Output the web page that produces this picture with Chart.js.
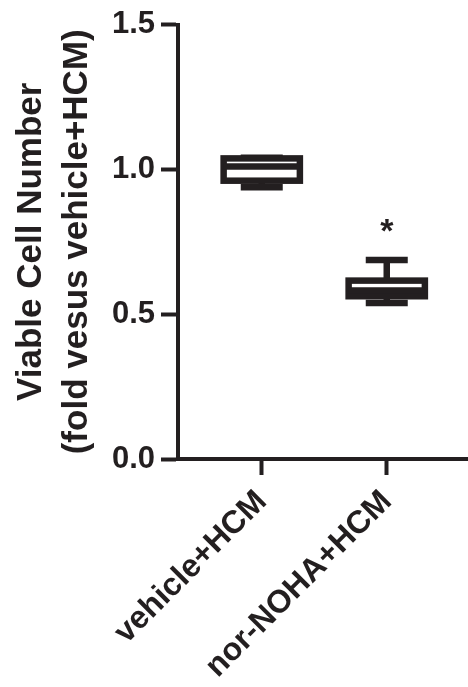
<!DOCTYPE html>
<html>
<head>
<meta charset="utf-8">
<script src="https://cdn.jsdelivr.net/npm/chart.js@4.4.1/dist/chart.umd.min.js"></script>
<style>
  html, body { margin: 0; padding: 0; background: #fff; }
  #wrap { width: 468px; height: 687px; position: relative; }
</style>
</head>
<body>
<div id="wrap"><canvas id="boxChart"></canvas></div>
<script>
// box plot data
const groups = ["vehicle+HCM", "nor-NOHA+HCM"];
const mins = [0.938, 0.539];
const q1s = [0.961, 0.562];
const medians = [1.010, 0.582];
const q3s = [1.038, 0.616];
const maxs = [1.040, 0.687];
const marks = ["", "*"];
const yTicks = [0, 0.5, 1.0, 1.5];

const ink = "#231f20";
const fontFam = "'Liberation Sans', Arial, Helvetica, sans-serif";

// draws the box & whiskers through the chart scales
const boxPlot = {
    id: "boxPlot",
    afterDatasetsDraw(chart) {
        const { ctx, scales: { x, y } } = chart;
        const lw = 6.5;
        ctx.save();
        ctx.strokeStyle = ink;
        ctx.lineWidth = lw;
        ctx.lineCap = "butt";
        ctx.lineJoin = "miter";
        groups.forEach((g, i) => {
            const cx = x.getPixelForValue(i + 1);
            const boxL = x.getPixelForValue(i + 1 - 0.305);
            const boxR = x.getPixelForValue(i + 1 + 0.305);
            const capL = x.getPixelForValue(i + 1 - 0.168);
            const capR = x.getPixelForValue(i + 1 + 0.168);
            const yMin = y.getPixelForValue(mins[i]);
            const yQ1 = y.getPixelForValue(q1s[i]);
            const yMed = y.getPixelForValue(medians[i]);
            const yQ3 = y.getPixelForValue(q3s[i]);
            const yMax = y.getPixelForValue(maxs[i]);

            // whiskers
            ctx.beginPath();
            ctx.moveTo(cx, yQ3); ctx.lineTo(cx, yMax);
            ctx.moveTo(capL, yMax); ctx.lineTo(capR, yMax);
            ctx.moveTo(cx, yQ1); ctx.lineTo(cx, yMin);
            ctx.moveTo(capL, yMin); ctx.lineTo(capR, yMin);
            ctx.stroke();

            // box
            ctx.fillStyle = "#fff";
            ctx.fillRect(boxL, yQ3, boxR - boxL, yQ1 - yQ3);
            ctx.strokeRect(boxL, yQ3, boxR - boxL, yQ1 - yQ3);

            // median
            ctx.beginPath();
            ctx.moveTo(boxL, yMed); ctx.lineTo(boxR, yMed);
            ctx.stroke();

            // significance mark
            if (marks[i]) {
                ctx.fillStyle = ink;
                ctx.font = "bold 34px " + fontFam;
                ctx.textAlign = "center";
                ctx.textBaseline = "alphabetic";
                ctx.fillText(marks[i], cx, yMax - 18);
            }
        });
        ctx.restore();
    }
};

document.addEventListener("DOMContentLoaded", () => {
    const ctx = document.getElementById("boxChart").getContext("2d");
    new Chart(ctx, {
        type: "scatter",
        data: {
            datasets: [{
                data: groups.map((g, i) => ({ x: i + 1, y: medians[i] })),
                pointRadius: 0,
                pointHoverRadius: 0
            }]
        },
        options: {
            responsive: true,
            maintainAspectRatio: false,
            animation: false,
            layout: { padding: { top: 21, right: 0, left: 0, bottom: 0 } },
            plugins: {
                legend: { display: false },
                tooltip: { enabled: false }
            },
            scales: {
                x: {
                    type: "linear",
                    min: 0.33,
                    max: 2.65,
                    afterBuildTicks: (scale) => {
                        scale.ticks = groups.map((g, i) => ({ value: i + 1 }));
                    },
                    afterFit: (scale) => { scale.height = 228; },
                    border: { display: true, color: ink, width: 4 },
                    grid: {
                        drawOnChartArea: false,
                        tickLength: 16,
                        tickWidth: 4,
                        tickColor: ink
                    },
                    ticks: {
                        autoSkip: false,
                        maxRotation: 45,
                        minRotation: 45,
                        padding: 8,
                        color: ink,
                        font: { family: fontFam, size: 32, weight: "bold" },
                        callback: (v) => groups[v - 1] || ""
                    }
                },
                y: {
                    min: 0,
                    max: 1.5,
                    afterBuildTicks: (scale) => {
                        scale.ticks = yTicks.map((v) => ({ value: v }));
                    },
                    afterFit: (scale) => { scale.width = 178; },
                    border: { display: true, color: ink, width: 4 },
                    grid: {
                        drawOnChartArea: false,
                        tickLength: 17,
                        tickWidth: 4,
                        tickColor: ink
                    },
                    ticks: {
                        padding: 6,
                        color: ink,
                        font: { family: fontFam, size: 31, weight: "bold" },
                        callback: (v) => v.toFixed(1)
                    },
                    title: {
                        display: true,
                        text: ["Viable Cell Number", "(fold vesus vehicle+HCM)"],
                        color: ink,
                        font: { family: fontFam, size: 35, weight: "bold", lineHeight: 1.3 },
                        padding: { top: 9, bottom: 0 }
                    }
                }
            }
        },
        plugins: [boxPlot]
    });
});
</script>
</body>
</html>
